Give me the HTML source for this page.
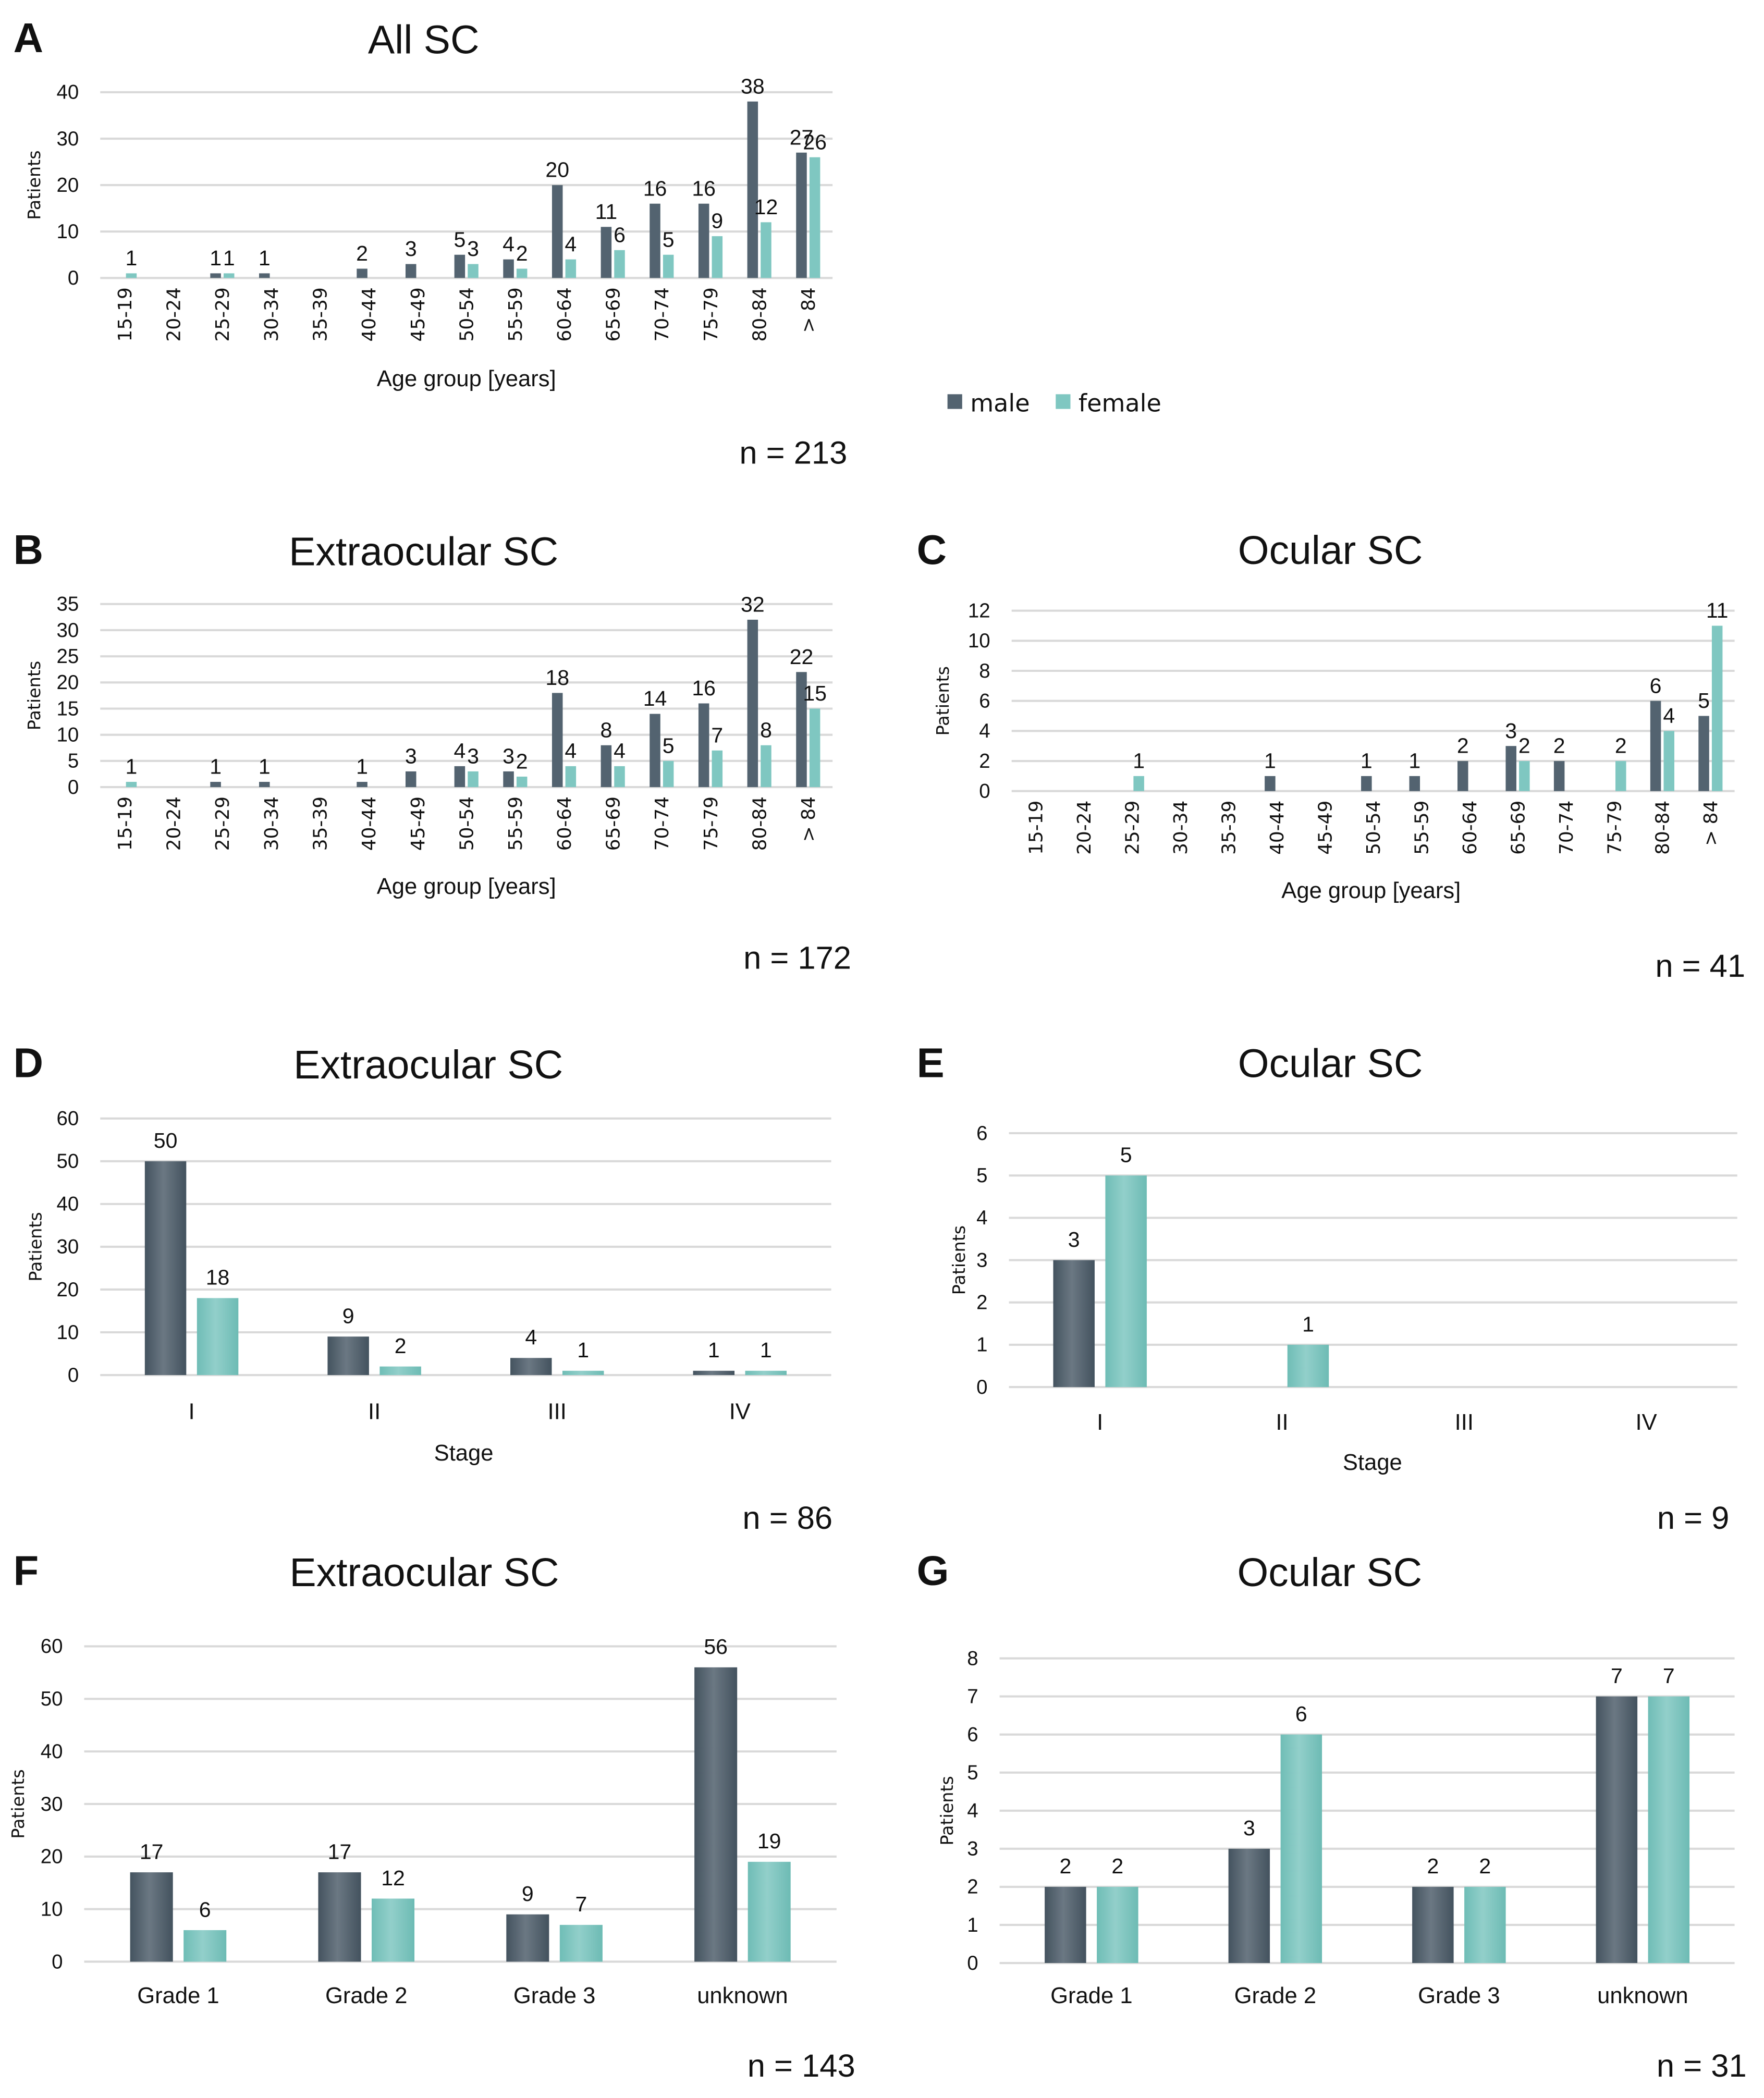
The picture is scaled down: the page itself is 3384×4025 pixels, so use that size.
<!DOCTYPE html>
<html><head><meta charset="utf-8">
<style>
html,body{margin:0;padding:0;background:#fff;}
svg{display:block;}
text{font-family:"Liberation Sans Narrow","Liberation Sans",sans-serif;fill:#111;}
.lbl{font-family:"Liberation Sans",sans-serif;font-weight:bold;font-size:31px;}
.ttl{font-size:30px;text-anchor:middle;}
.tick{font-size:15px;text-anchor:end;}
.val{font-size:16px;text-anchor:middle;}
.cat{font-size:16px;}
.axt{font-size:17px;text-anchor:middle;}
.pat{font-family:"DejaVu Sans",sans-serif;font-size:13px;text-anchor:middle;}
.nn{font-size:24px;text-anchor:end;}
</style></head>
<body>
<svg id="fig" width="3384" height="4025" viewBox="0 0 1320 1570" xmlns="http://www.w3.org/2000/svg">
<defs>
<linearGradient id="gm" x1="0" x2="1" y1="0" y2="0"><stop offset="0" stop-color="#44535f"/><stop offset="0.45" stop-color="#6b7883"/><stop offset="1" stop-color="#43525e"/></linearGradient>
<linearGradient id="gf" x1="0" x2="1" y1="0" y2="0"><stop offset="0" stop-color="#6fbdb6"/><stop offset="0.45" stop-color="#92cfca"/><stop offset="1" stop-color="#6dbbb4"/></linearGradient>
</defs>
</svg>
<script>
const ageCats = ["15-19","20-24","25-29","30-34","35-39","40-44","45-49","50-54","55-59","60-64","65-69","70-74","75-79","80-84","> 84"];
const stageCats = ["I","II","III","IV"];
const gradeCats = ["Grade 1","Grade 2","Grade 3","unknown"];
const aMale = [0,0,1,1,0,2,3,5,4,20,11,16,16,38,27];
const aFemale = [1,0,1,0,0,0,0,3,2,4,6,5,9,12,26];
const bMale = [0,0,1,1,0,1,3,4,3,18,8,14,16,32,22];
const bFemale = [1,0,0,0,0,0,0,3,2,4,4,5,7,8,15];
const cMale = [0,0,0,0,0,1,0,1,1,2,3,2,0,6,5];
const cFemale = [0,0,1,0,0,0,0,0,0,0,2,0,2,4,11];
const dMale = [50,9,4,1];
const dFemale = [18,2,1,1];
const eMale = [3,0,0,0];
const eFemale = [5,1,0,0];
const fMale = [17,17,9,56];
const fFemale = [6,12,7,19];
const gMale = [2,3,2,7];
const gFemale = [2,6,2,7];
const aTicks = [0,10,20,30,40];
const bTicks = [0,5,10,15,20,25,30,35];
const cTicks = [0,2,4,6,8,10,12];
const dTicks = [0,10,20,30,40,50,60];
const eTicks = [0,1,2,3,4,5,6];
const fTicks = [0,10,20,30,40,50,60];
const gTicks = [0,1,2,3,4,5,6,7,8];

const NS="http://www.w3.org/2000/svg";
const svg=document.getElementById('fig');
function mk(tag,attrs,txt,parent){const e=document.createElementNS(NS,tag);for(const k in attrs)e.setAttribute(k,attrs[k]);if(txt!==undefined)e.textContent=txt;(parent||svg).appendChild(e);return e;}

function chart(p){
  const g=mk('g',{});
  
  
  const t1=mk('text',{x:p.lx,y:p.ly,class:'lbl'},p.letter,g);
  
  
  const t2=mk('text',{x:(p.x0+p.x1)/2+p.tdx,y:p.ty,class:'ttl'},p.title,g);
  
  
  const tmax=p.ticks[p.ticks.length-1];
  const ys=v=>p.yb-(v/tmax)*(p.yb-p.yt);
  p.ticks.forEach(v=>{
    const l=mk('line',{x1:p.x0,x2:p.x1,y1:ys(v),y2:ys(v),stroke:'#d9d9d9','stroke-width':1.6},undefined,g);
    
    
    const tt=mk('text',{x:p.x0-p.tickGap,y:ys(v)+5,class:'tick',style:'font-size:'+p.tickFs+'px'},String(v),g);
    
    
  });
  const pt=mk('text',{x:0,y:0,class:'pat',transform:'translate('+p.px+','+((p.yt+p.yb)/2)+') rotate(-90)'},'Patients',g);
  
  
  const n=p.cats.length, step=(p.x1-p.x0)/n;
  p.cats.forEach((c,i)=>{
    const cx=p.x0+step*(i+0.5);
    [[p.male,'m'],[p.female,'f']].forEach(([arr,s])=>{
      const v=arr[i];
      const bx= s==='m'? cx-p.bo-p.bw : cx+p.bo;
      if(v>0){
        const r=mk('rect',{x:bx,y:ys(v),width:p.bw,height:p.yb-ys(v),fill:p.grad?(s==='m'?'url(#gm)':'url(#gf)'):(s==='m'?'#536370':'#7fc7c1')},undefined,g);
        
        
        const vt=mk('text',{x:bx+p.bw/2,y:ys(v)-p.vgap,class:'val',style:'font-size:'+p.valFs+'px'},String(v),g);
        
        
      }
    });
    let ct;
    if(p.rot){
      ct=mk('text',{x:0,y:0,class:'cat',style:'font-family:DejaVu Sans,sans-serif;font-size:14px;text-anchor:end','transform':'translate('+(cx+5)+','+(p.yb+7)+') rotate(-90)'},c,g);
    } else {
      ct=mk('text',{x:cx,y:p.catY,class:'cat',style:'text-anchor:middle;font-size:17px'},c,g);
    }
    
    
  });
  if(p.xt){
    const xt=mk('text',{x:p.xtx,y:p.xty,class:'axt'},p.xt,g);
    
    
  }
  const nt=mk('text',{x:p.nx,y:p.ny,class:'nn'},p.ntext,g);
  
  
}
const small={bw:8,bo:1,vgap:6,valFs:16,tickFs:15,tickGap:16,rot:true,grad:false};
const big={bw:31,bo:4,vgap:10,valFs:16,tickFs:15,tickGap:16,rot:false,grad:true};
chart(Object.assign({},small,{name:'chart-a',letter:'A',lx:10,ly:39,title:'All SC',tdx:-32,ty:40,x0:75,x1:623,yt:69,yb:208,ticks:aTicks,px:30,cats:ageCats,male:aMale,female:aFemale,xt:'Age group [years]',xtx:349,xty:289,nx:634,ny:347,ntext:'n = 213'}));
chart(Object.assign({},small,{name:'chart-b',letter:'B',lx:10,ly:422,title:'Extraocular SC',tdx:-32,ty:423,x0:75,x1:623,yt:452,yb:589,ticks:bTicks,px:30,cats:ageCats,male:bMale,female:bFemale,xt:'Age group [years]',xtx:349,xty:669,nx:637,ny:725,ntext:'n = 172'}));
chart(Object.assign({},small,{name:'chart-c',letter:'C',lx:686,ly:422,title:'Ocular SC',tdx:-32,ty:422,x0:757,x1:1298,yt:457,yb:592,ticks:cTicks,px:710,cats:ageCats,male:cMale,female:cFemale,xt:'Age group [years]',xtx:1026,xty:672,nx:1306,ny:731,ntext:'n = 41'}));
chart(Object.assign({},big,{name:'chart-d',letter:'D',lx:10,ly:806,title:'Extraocular SC',tdx:-28,ty:807,x0:75,x1:622,yt:837,yb:1029,ticks:dTicks,px:31,cats:stageCats,male:dMale,female:dFemale,catY:1062,xt:'Stage',xtx:347,xty:1093,nx:623,ny:1144,ntext:'n = 86'}));
chart(Object.assign({},big,{name:'chart-e',letter:'E',lx:686,ly:806,title:'Ocular SC',tdx:-32,ty:806,x0:755,x1:1300,yt:848,yb:1038,ticks:eTicks,px:722,cats:stageCats,male:eMale,female:eFemale,catY:1070,xt:'Stage',xtx:1027,xty:1100,nx:1294,ny:1144,ntext:'n = 9'}));
chart(Object.assign({},big,{name:'chart-f',letter:'F',lx:10,ly:1186,title:'Extraocular SC',tdx:-27,ty:1187,x0:63,x1:626,yt:1232,yb:1468,ticks:fTicks,px:18,bw:32,cats:gradeCats,male:fMale,female:fFemale,catY:1499,nx:640,ny:1554,ntext:'n = 143'}));
chart(Object.assign({},big,{name:'chart-g',letter:'G',lx:686,ly:1186,title:'Ocular SC',tdx:-28,ty:1187,x0:748,x1:1298,yt:1241,yb:1469,ticks:gTicks,px:713,cats:gradeCats,male:gMale,female:gFemale,catY:1499,nx:1307,ny:1554,ntext:'n = 31'}));

// legend
const lg=mk('g',{});


const r1=mk('rect',{x:709,y:295,width:11,height:11,fill:'#536370'},undefined,lg);


const l1=mk('text',{x:726,y:308,style:'font-family:DejaVu Sans,sans-serif;font-size:18px'},'male',lg);


const r2=mk('rect',{x:790,y:295,width:11,height:11,fill:'#7fc7c1'},undefined,lg);


const l2=mk('text',{x:807,y:308,style:'font-family:DejaVu Sans,sans-serif;font-size:18px'},'female',lg);


</script>
</body></html>
